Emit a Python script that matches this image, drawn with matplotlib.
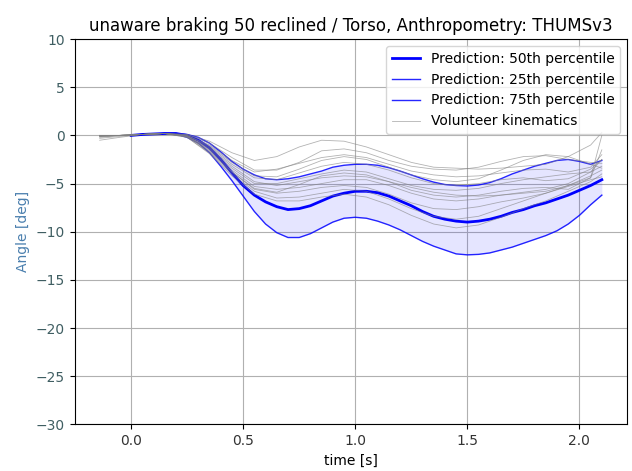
import numpy as np
import matplotlib
matplotlib.use("Agg")
import matplotlib.pyplot as plt

# ---------------- data ----------------
t_pred = [0.00, 0.05, 0.10, 0.15, 0.20, 0.25, 0.30, 0.35, 0.40, 0.45, 0.50,
          0.55, 0.60, 0.65, 0.70, 0.75, 0.80, 0.85, 0.90, 0.95, 1.00,
          1.05, 1.10, 1.15, 1.20, 1.25, 1.30, 1.35, 1.40, 1.45, 1.50,
          1.55, 1.60, 1.65, 1.70, 1.75, 1.80, 1.85, 1.90, 1.95, 2.00,
          2.05, 2.10]
p50 = [0.0, 0.1, 0.15, 0.2, 0.2, 0.0, -0.5, -1.3, -2.5, -3.9, -5.2,
       -6.2, -6.9, -7.4, -7.7, -7.6, -7.3, -6.8, -6.3, -6.0, -5.8,
       -5.8, -5.95, -6.3, -6.8, -7.3, -7.9, -8.4, -8.7, -8.9, -9.0,
       -8.9, -8.7, -8.4, -8.0, -7.7, -7.3, -7.0, -6.6, -6.2, -5.7,
       -5.2, -4.6]
p75 = [0.0, 0.1, 0.15, 0.2, 0.2, 0.1, -0.2, -0.8, -1.7, -2.7, -3.5,
       -4.1, -4.5, -4.6, -4.5, -4.3, -4.0, -3.7, -3.3, -3.1, -3.0,
       -3.0, -3.1, -3.35, -3.7, -4.1, -4.5, -4.85, -5.1, -5.2, -5.25,
       -5.15, -4.9, -4.5, -4.0, -3.6, -3.2, -2.9, -2.6, -2.5, -2.7,
       -3.0, -2.6]
p25 = [0.0, 0.1, 0.15, 0.2, 0.15, -0.2, -0.8, -1.8, -3.2, -4.7, -6.3,
       -7.9, -9.2, -10.1, -10.6, -10.6, -10.2, -9.6, -9.0, -8.6, -8.5,
       -8.6, -8.9, -9.3, -9.8, -10.4, -11.0, -11.5, -11.9, -12.3, -12.4,
       -12.35, -12.2, -11.9, -11.6, -11.2, -10.8, -10.4, -9.9, -9.2, -8.3,
       -7.2, -6.2]

t_vol = [-0.14, -0.05, 0.05, 0.15, 0.25, 0.35, 0.45, 0.55, 0.65, 0.75, 0.85,
         0.95, 1.05, 1.15, 1.25, 1.35, 1.45, 1.55, 1.65, 1.75, 1.85, 1.95,
         2.05, 2.10]
vol1 = [0, 0, 0.1, 0.2, 0.1, -0.6, -1.8, -2.6, -2.2, -1.2, -0.5, -0.6, -1.2, -2.0, -2.8, -3.3, -3.4, -3.5, -3.4, -3.2, -3.0, -2.2, -1.0, 0.3]
vol2 = [-0.1, 0, 0.1, 0.2, 0.1, -0.8, -2.3, -3.6, -3.6, -2.8, -1.6, -1.4, -1.8, -2.6, -3.2, -3.5, -3.6, -3.3, -2.7, -2.2, -2.1, -2.5, -2.8, -2.9]
vol3 = [-0.3, -0.1, 0.1, 0.2, 0.0, -1.0, -2.6, -3.8, -3.5, -2.9, -2.3, -2.0, -2.3, -3.0, -3.7, -4.1, -4.3, -4.2, -3.9, -3.6, -3.5, -3.8, -3.3, -2.0]
vol4 = [0.0, 0, 0.1, 0.2, 0.0, -1.2, -3.0, -4.4, -4.6, -3.9, -3.2, -2.8, -3.0, -3.6, -4.4, -5.0, -5.2, -5.0, -4.6, -4.4, -4.7, -4.5, -3.5, -2.5]
vol5 = [-0.1, 0, 0.1, 0.2, -0.1, -1.4, -3.4, -5.0, -5.0, -4.5, -4.0, -3.6, -3.8, -4.5, -5.2, -5.6, -5.7, -5.5, -5.0, -4.6, -4.3, -4.0, -3.8, -3.2]
vol6 = [-0.5, -0.2, 0.1, 0.2, -0.1, -1.5, -3.6, -5.3, -5.6, -5.4, -5.0, -4.6, -4.6, -5.2, -6.0, -6.6, -6.8, -6.6, -6.2, -5.9, -5.6, -5.0, -3.8, -2.5]
vol7 = [0.0, 0, 0.1, 0.2, -0.1, -1.6, -3.8, -5.6, -6.0, -5.8, -5.4, -5.2, -5.4, -6.1, -7.0, -7.6, -7.7, -7.4, -6.9, -6.5, -6.0, -5.2, -4.2, -3.6]
vol8 = [-0.1, 0, 0.1, 0.2, -0.2, -1.8, -4.0, -5.8, -6.5, -6.4, -6.0, -5.6, -5.8, -6.6, -7.6, -8.4, -8.7, -8.4, -7.6, -6.8, -6.0, -5.3, -4.6, -4.3]
vol9 = [0.0, 0, 0.1, 0.2, -0.2, -1.9, -4.2, -6.1, -6.8, -6.8, -6.4, -6.1, -6.4, -7.2, -8.3, -9.2, -9.6, -9.3, -8.5, -7.6, -6.8, -5.8, -4.8, -4.0]
vol10 = [-0.2, 0, 0.1, 0.2, -0.1, -1.7, -3.8, -5.5, -5.9, -5.1, -4.2, -3.9, -4.1, -4.8, -5.7, -6.2, -6.4, -6.2, -5.8, -5.5, -5.4, -5.6, -4.4, -1.5]
vol11 = [0.0, 0, 0.1, 0.2, 0.0, -1.1, -2.8, -4.2, -4.3, -3.5, -2.6, -2.2, -2.5, -3.3, -4.1, -4.6, -4.8, -4.5, -3.6, -2.6, -2.0, -2.2, -3.0, -3.4]
vol12 = [-0.1, 0, 0.1, 0.2, -0.1, -1.3, -3.2, -4.8, -5.2, -4.8, -4.4, -4.2, -4.3, -4.8, -5.4, -5.9, -6.2, -6.3, -6.2, -6.0, -5.8, -5.2, -4.4, 0.0]
volunteers = [vol1, vol2, vol3, vol4, vol5, vol6, vol7, vol8, vol9, vol10, vol11, vol12]

yticks = [10, 5, 0, -5, -10, -15, -20, -25, -30]

# ---------------- plot ----------------
fig = plt.figure(figsize=(6.32, 4.71), dpi=100)
ax = fig.add_axes([0.118, 0.099, 0.874, 0.818])

ax.fill_between(t_pred, p25, p75, color="blue", alpha=0.1, linewidth=0)
ax.plot(t_pred, p50, color="blue", lw=2.0, label="Prediction: 50th percentile")
ax.plot(t_pred, p25, color="blue", lw=1.0, alpha=0.85, label="Prediction: 25th percentile")
ax.plot(t_pred, p75, color="blue", lw=1.0, alpha=0.85, label="Prediction: 75th percentile")
for i, v in enumerate(volunteers):
    ax.plot(t_vol, v, color="gray", lw=0.6, alpha=0.6,
            label="Volunteer kinematics" if i == 0 else None)

ax.set_ylim(-30, 10)
ax.set_yticks(yticks)
ax.grid(True, color="#b0b0b0", lw=0.8)
ax.set_axisbelow(True)
ax.set_title("unaware braking 50 reclined / Torso, Anthropometry: THUMSv3", fontsize=12)
ax.set_xlabel("time [s]", fontsize=10)
ax.set_ylabel("Angle [deg]", fontsize=10, color="#4a7fae")
ax.tick_params(axis="y", labelcolor="#3f5e62", labelsize=10)
ax.tick_params(axis="x", labelcolor="#333333", labelsize=10)
ax.legend(loc="upper right", fontsize=10)

fig.savefig("out.png", dpi=100)
